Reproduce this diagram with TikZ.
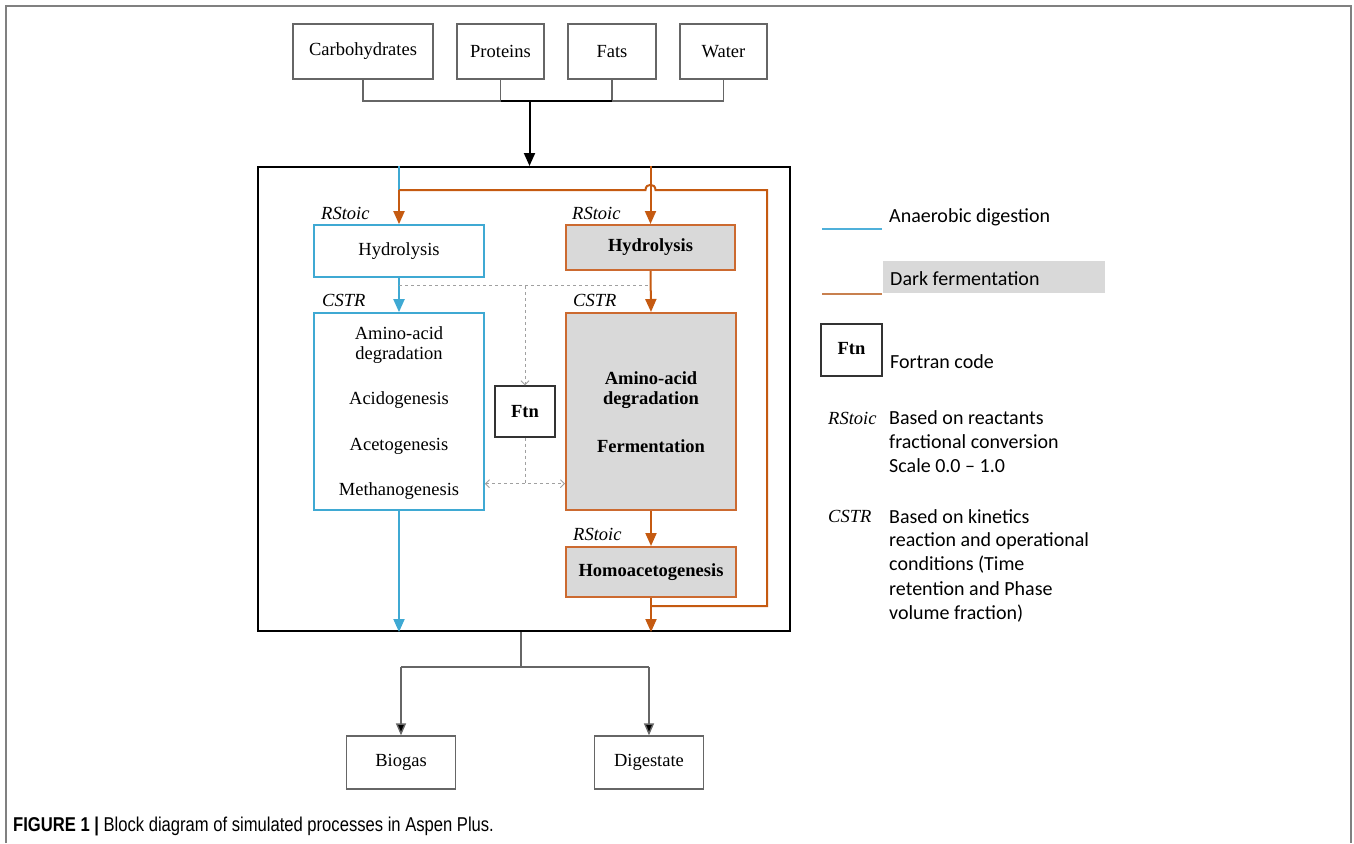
\documentclass[tikz,border=0pt]{standalone}
\usepackage{fontspec}
\setmainfont{Liberation Serif}
\newfontfamily\legfont{Carlito}
\newfontfamily\capfont[FakeStretch=0.83]{Liberation Sans}
\usetikzlibrary{arrows.meta,calc}
\definecolor{adblue}{HTML}{3FA9D3}
\definecolor{dforange}{HTML}{C55A11}
\definecolor{dfborder}{HTML}{CC6A30}
\definecolor{boxgray}{HTML}{D9D9D9}
\definecolor{lineg}{HTML}{666666}
\definecolor{legorange}{HTML}{C8804F}
\definecolor{legblue}{HTML}{4FB0DA}
\definecolor{dashg}{HTML}{A0A0A0}
\definecolor{borderg}{HTML}{808080}
\begin{document}
\begin{tikzpicture}[x=1pt,y=-1pt,
  every node/.style={inner sep=0pt, font=\fontsize{18.5}{22}\selectfont},
  inbox/.style={draw=lineg, line width=1.3pt, fill=white},
  adbox/.style={draw=adblue, line width=1.7pt, fill=white},
  dfbox/.style={draw=dfborder, line width=2pt, fill=boxgray, font=\fontsize{18.5}{22}\selectfont\bfseries},
  lbl/.style={anchor=west, font=\fontsize{18.5}{22}\selectfont\itshape},
  tip/.style={-{Triangle[width=11pt,length=13pt]}},
  outtip/.style={-{Triangle[width=10pt,length=12pt,fill=black]}},
  adline/.style={draw=adblue, line width=2pt},
  dfline/.style={draw=dforange, line width=2pt},
  dashline/.style={draw=dashg, line width=0.9pt, dash pattern=on 3pt off 3pt},
  legtext/.style={anchor=base west, font=\fontsize{20}{24}\selectfont\legfont},
]
\useasboundingbox (0,0) rectangle (1354,843);
% outer figure border
\draw[borderg, line width=1.5pt] (6,843) -- (6,6) -- (1351,6) -- (1351,843);

% input boxes
\node[inbox, minimum width=140pt, minimum height=55pt] (carb) at (363,51.5) {Carbohydrates};
\node[inbox, minimum width=87pt, minimum height=55pt] (prot) at (500.5,51.5) {Proteins};
\node[inbox, minimum width=88pt, minimum height=55pt] (fats) at (612,51.5) {Fats};
\node[inbox, minimum width=87pt, minimum height=55pt] (water) at (723.5,51.5) {Water};
\coordinate (busy) at (0,101);
\coordinate (feed) at (529.5,101);
\draw[lineg, line width=1.3pt] (carb.south) |- (water.south |- busy) -- (water.south);
\draw[lineg, line width=1.3pt] (prot.south) -- (prot.south |- busy);
\draw[lineg, line width=1.3pt] (fats.south) -- (fats.south |- busy);
\draw[black, line width=1.5pt] (prot.south |- busy) -- (fats.south |- busy);

% main frame
\node[draw=black, line width=2pt, minimum width=532pt, minimum height=464pt] (frame) at (524,399) {};
\draw[black, line width=2pt, tip] (feed) -- (feed |- frame.north);

% process boxes
\node[adbox, minimum width=170pt, minimum height=52pt] (lhyd) at (399,251) {Hydrolysis};
\node[dfbox, minimum width=169pt, minimum height=45pt] (rhyd) at (650.5,247.5) {Hydrolysis};
\node[adbox, minimum width=170pt, minimum height=197pt] (lcstr) at (399,411.5) {};
\node[dfbox, minimum width=170pt, minimum height=197pt] (rcstr) at (651,411.5) {};
\node[dfbox, minimum width=170pt, minimum height=50pt] (homo) at (651,572) {Homoacetogenesis};
\node[draw=black!80, line width=1.3pt, fill=white, minimum width=60pt, minimum height=51pt, font=\fontsize{18.5}{22}\selectfont\bfseries] (ftn) at (525,411.5) {Ftn};

% texts inside the CSTR boxes
\node (la1) at (399,333) {Amino-acid};
\node (la2) at (399,355) {degradation};
\node (la3) at (399,400) {Acidogenesis};
\node (la4) at (399,446) {Acetogenesis};
\node (la5) at (399,491) {Methanogenesis};
\node[font=\fontsize{18.5}{22}\selectfont\bfseries] (ra1) at (651,378) {Amino-acid};
\node[font=\fontsize{18.5}{22}\selectfont\bfseries] (ra2) at (651,400) {degradation};
\node[font=\fontsize{18.5}{22}\selectfont\bfseries] (ra3) at (651,446) {Fermentation};

% model labels
\node[lbl] (l1) at (321,213) {RStoic};
\node[lbl] (l2) at (572,213) {RStoic};
\node[lbl] (l3) at (322,300) {CSTR};
\node[lbl] (l4) at (573,300) {CSTR};
\node[lbl] (l5) at (573,534) {RStoic};

% flows
\coordinate (loopL) at (399,190);
\coordinate (loopB) at (651,606);
\coordinate (loopBR) at (767,606);
\coordinate (loopTR) at (767,190);
\draw[adline] (lhyd.north |- frame.north) -- (loopL);
\draw[dfline, tip] (rhyd.north |- frame.north) -- (rhyd.north);
\draw[dfline] (loopB) -- (loopBR) -- (loopTR) -- ($(rhyd.north |- loopL)+(5,0)$)
   .. controls +(0,-7) and +(0,-7) .. ($(rhyd.north |- loopL)+(-5,0)$) -- (loopL);
\draw[dfline, tip] (loopL) -- (lhyd.north);
\draw[adline, tip] (lhyd.south) -- (lcstr.north);
\draw[dfline, tip] (rhyd.south) -- (rcstr.north);
\draw[dfline, tip] (rcstr.south) -- (homo.north);
\draw[dfline, tip] (homo.south) -- (homo.south |- frame.south);
\draw[adline, tip] (lcstr.south) -- (lcstr.south |- frame.south);

% dashed Fortran links
\path (lhyd.south) ++(0,8) coordinate (dl);
\coordinate (dm) at (ftn.north |- dl);
\path (ftn.south) ++(0,46) coordinate (db);
\draw[dashline] (dl) -- (rhyd.south |- dl);
\draw[dashline, -{Straight Barb[length=4pt,width=8pt]}] (dm) -- (ftn.north);
\draw[dashline] (ftn.south) -- (db);
\draw[dashline, {Straight Barb[length=4pt,width=8pt]}-{Straight Barb[length=4pt,width=8pt]}] (lcstr.east |- db) -- (rcstr.west |- db);

% outputs
\node[inbox, minimum width=109pt, minimum height=53pt] (bio) at (401,762.5) {Biogas};
\node[inbox, minimum width=109pt, minimum height=53pt] (dig) at (649,762.5) {Digestate};
\coordinate (fk) at (521,667);
\draw[lineg, line width=1.4pt] (fk |- frame.south) -- (fk);
\draw[lineg, line width=1.4pt] (bio.north |- fk) -- (dig.north |- fk);
\draw[lineg, line width=1.4pt, outtip] (bio.north |- fk) -- (bio.north);
\draw[lineg, line width=1.4pt, outtip] (dig.north |- fk) -- (dig.north);

% legend
\draw[legblue, line width=2pt] (822,229) -- (882,229);
\node[legtext] (t1) at (889,222) {Anaerobic digestion};
\fill[boxgray] (883,261) rectangle (1105,293);
\draw[legorange, line width=2pt] (822,294) -- (882,294);
\node[legtext] (t2) at (890,285) {Dark fermentation};
\node[draw=black!80, line width=1.3pt, minimum width=61pt, minimum height=52pt] (lftn) at (851.5,350) {};
\node[font=\fontsize{18.5}{22}\selectfont\bfseries] (lftnt) at (851.5,349) {Ftn};
\node[legtext] (t3) at (890,368) {Fortran code};
\node[lbl] (l6) at (828,418) {RStoic};
\node[legtext] (t4a) at (889,424) {Based on reactants};
\node[legtext] (t4b) at (889,448) {fractional conversion};
\node[legtext] (t4c) at (889,472) {Scale 0.0 – 1.0};
\node[lbl] (l7) at (828,516) {CSTR};
\node[legtext] (t5a) at (889,523) {Based on kinetics};
\node[legtext] (t5b) at (889,546) {reaction and operational};
\node[legtext] (t5c) at (889,570) {conditions (Time};
\node[legtext] (t5d) at (889,595) {retention and Phase};
\node[legtext] (t5e) at (889,619) {volume fraction)};

% caption
\node[anchor=west, font=\fontsize{20}{24}\selectfont\capfont] (cap) at (13,826) {\textbf{FIGURE 1 |} Block diagram of simulated processes in Aspen Plus.};
\end{tikzpicture}
\end{document}
